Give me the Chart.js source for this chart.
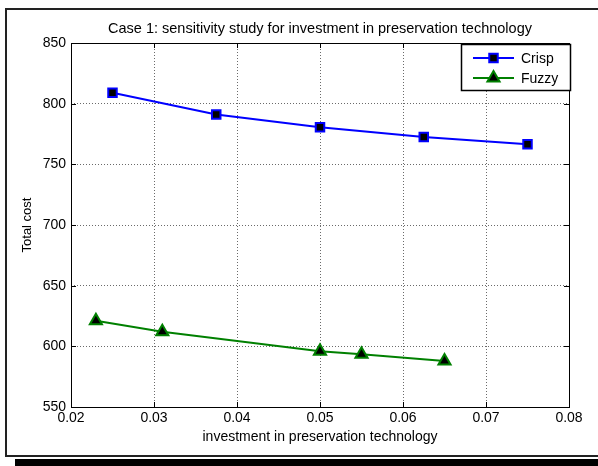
<!DOCTYPE html>
<html><head><meta charset="utf-8">
<script src="https://cdn.jsdelivr.net/npm/chart.js@4"></script>
<style>html,body{margin:0;padding:0;background:#fff}#wrap{width:598px;height:466px;position:relative}</style>
</head><body><div id="wrap"><canvas id="c" width="598" height="466"></canvas></div>
<script>
const chartTitle = "Case 1: sensitivity study for investment in preservation technology";
const xTitle = "investment in preservation technology";
const yTitle = "Total cost";
const crispX = [0.025, 0.0375, 0.05, 0.0625, 0.075];
const crispY = [809, 791, 780.5, 772.5, 766.5];
const fuzzyX = [0.023, 0.031, 0.05, 0.055, 0.065];
const fuzzyY = [621, 612, 596, 593.5, 588];
const xTicks = [0.02, 0.03, 0.04, 0.05, 0.06, 0.07, 0.08];
const yTicks = [550, 600, 650, 700, 750, 800, 850];
const seriesNames = ["Crisp", "Fuzzy"];

const FONT = "'Liberation Sans', Arial, sans-serif";

const framePlugin = {
  id: 'frame',
  beforeDraw(chart) {
    const ctx = chart.ctx;
    ctx.save();
    ctx.fillStyle = '#fff';
    ctx.fillRect(0, 0, chart.width, chart.height);
    ctx.fillStyle = '#000';
    ctx.fillRect(15, 459, 583, 7);
    ctx.strokeStyle = '#222';
    ctx.lineWidth = 2;
    ctx.beginPath();
    ctx.moveTo(610, 9); ctx.lineTo(6, 9); ctx.lineTo(6, 456); ctx.lineTo(610, 456);
    ctx.stroke();
    ctx.restore();
  },
  afterDatasetsDraw(chart) {
    const ctx = chart.ctx, a = chart.chartArea;
    const xs = chart.scales.x, ys = chart.scales.y;
    ctx.save();
    ctx.strokeStyle = '#000';
    ctx.lineWidth = 1;
    ctx.strokeRect(Math.round(a.left) + 0.5, Math.round(a.top) + 0.5, Math.round(a.right - a.left), Math.round(a.bottom - a.top));
    ctx.beginPath();
    xTicks.forEach(v => {
      const px = Math.round(xs.getPixelForValue(v)) + 0.5;
      ctx.moveTo(px, a.bottom); ctx.lineTo(px, a.bottom - 5);
      ctx.moveTo(px, a.top); ctx.lineTo(px, a.top + 5);
    });
    yTicks.forEach(v => {
      const py = Math.round(ys.getPixelForValue(v)) + 0.5;
      ctx.moveTo(a.left, py); ctx.lineTo(a.left + 5, py);
      ctx.moveTo(a.right, py); ctx.lineTo(a.right - 5, py);
    });
    ctx.stroke();
    // legend box
    const bx = 461, by = 44, bw = 109, bh = 46;
    ctx.fillStyle = '#fff';
    ctx.fillRect(bx, by, bw, bh);
    ctx.strokeStyle = '#000';
    ctx.lineWidth = 1.5;
    ctx.strokeRect(bx + 0.5, by + 0.5, bw, bh);
    const ds = chart.data.datasets;
    [[ds[0], by + 14], [ds[1], by + 34]].forEach(([d, y]) => {
      ctx.strokeStyle = d.borderColor;
      ctx.lineWidth = 2;
      ctx.beginPath(); ctx.moveTo(473, y); ctx.lineTo(514, y); ctx.stroke();
      ctx.fillStyle = d.pointBackgroundColor;
      ctx.strokeStyle = d.pointBorderColor;
      ctx.lineWidth = d.pointBorderWidth;
      Chart.helpers.drawPoint(ctx, {pointStyle: d.pointStyle, rotation: 0, radius: d.pointRadius, borderWidth: d.pointBorderWidth}, 493.5, y);
      ctx.fillStyle = '#000';
      ctx.font = '14px ' + FONT;
      ctx.textBaseline = 'middle';
      ctx.textAlign = 'left';
      ctx.fillText(d.label, 521, y + 1);
    });
    ctx.restore();
  }
};

function pt(xs, ys) { return xs.map((x, i) => ({x: x, y: ys[i]})); }

new Chart(document.getElementById('c'), {
  type: 'line',
  data: {
    datasets: [
      {label: seriesNames[0], data: pt(crispX, crispY), borderColor: '#0000ff', borderWidth: 2,
       pointStyle: 'rect', pointRadius: 6, pointBackgroundColor: '#000', pointBorderColor: '#0000ff', pointBorderWidth: 2, tension: 0},
      {label: seriesNames[1], data: pt(fuzzyX, fuzzyY), borderColor: '#008000', borderWidth: 2,
       pointStyle: 'triangle', pointRadius: 7, pointBackgroundColor: '#000', pointBorderColor: '#008000', pointBorderWidth: 2, tension: 0}
    ]
  },
  options: {
    responsive: false,
    animation: false,
    layout: {padding: {left: 0, right: 29, top: 0, bottom: 0}},
    plugins: {
      legend: {display: false},
      tooltip: {enabled: false},
      title: {display: true, fullSize: false, text: chartTitle, color: '#000', font: {family: FONT, size: 14.5, weight: 'normal'}, padding: {top: 20, bottom: 5.6}}
    },
    scales: {
      x: {
        type: 'linear', min: 0.02, max: 0.08,
        afterBuildTicks(s) { s.ticks = xTicks.map(v => ({value: v})); },
        afterFit(s) { s.height = 59; },
        grid: {color: '#6a6a6a', lineWidth: 1, drawTicks: false},
        border: {display: false, dash: [1, 2]},
        ticks: {color: '#000', padding: 3, font: {family: FONT, size: 14}, maxRotation: 0,
                callback: v => v.toFixed(2)},
        title: {display: true, text: xTitle, color: '#000', font: {family: FONT, size: 14}, padding: {top: 0, bottom: 20}}
      },
      y: {
        min: 550, max: 850,
        afterBuildTicks(s) { s.ticks = yTicks.map(v => ({value: v})); },
        afterFit(s) { s.width = 71; },
        grid: {color: '#6a6a6a', lineWidth: 1, drawTicks: false},
        border: {display: false, dash: [1, 2]},
        ticks: {color: '#000', padding: 5, font: {family: FONT, size: 14}},
        title: {display: true, text: yTitle, color: '#000', font: {family: FONT, size: 13}, padding: {top: 20, bottom: 0}}
      }
    }
  }
  ,plugins: [framePlugin]
});
</script></body></html>
